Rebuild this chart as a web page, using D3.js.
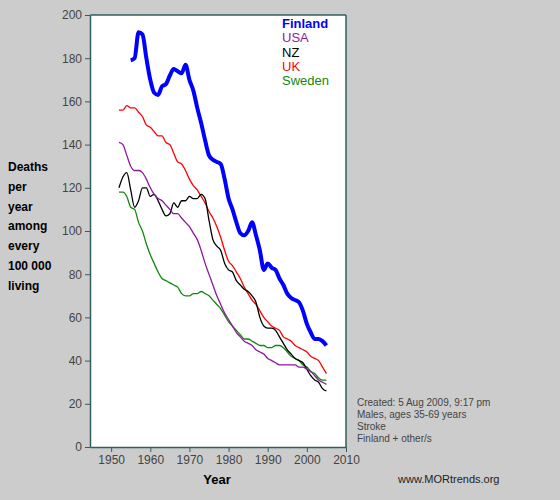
<!DOCTYPE html>
<html><head><meta charset="utf-8">
<script src="https://cdn.jsdelivr.net/npm/d3@7"></script>
<style>body{margin:0;background:#cccccc;}svg{display:block;font-family:Arial,"Liberation Sans",sans-serif;}</style>
</head><body><div id="chart"></div>
<script>
const years = d3.range(1952, 2006);
const finland = [null,null,null,179,180,192,191,180,170,164,163,167,168,172,175,174,173,177,170,165,157,150,142,135,133,132,131,124,115,110,104,99,98,100,104,98,91,82,85,83,82,78,75,71,69,68,67,63,57,53,50,50,49,47];
const usa = [141,140,135,130,128,128,127,124,120,117,115,114,112,110,108,108,106,104,102,99,96,91,85,80,75,70,66,62,59,56,53,51,49,48,47,45,44,43,41,40,39,38,38,38,38,38,37,37,36,35,33,31,30,29];
const nz = [120,125,127,119,111,114,120,120,116,117,114,110,107,108,113,111,114,114,116,115,115,117,115,105,96,93,91,85,82,81,77,75,73,72,70,67,60,56,55,55,54,51,48,45,43,41,40,39,36,33,31,30,27,26];
const uk = [156,156,158,157,157,155,153,149,148,146,144,144,141,140,136,132,131,128,124,121,119,116,113,109,106,102,97,91,86,84,81,78,74,71,68,66,63,60,58,56,55,54,51,50,49,47,46,45,44,42,41,40,37,34];
const sweden = [118,118,116,111,110,104,100,94,89,85,81,78,77,76,75,74,71,70,70,71,71,72,71,70,68,66,64,61,58,56,54,52,50,50,49,48,47,47,46,46,47,47,46,44,42,41,40,38,37,35,34,32,31,31];
const series = [
  {name:"Finland", values:finland, color:"#0000ff", width:4, bold:true},
  {name:"USA", values:usa, color:"#8b1a9b", width:1.3},
  {name:"NZ", values:nz, color:"#000000", width:1.3},
  {name:"UK", values:uk, color:"#ff0000", width:1.3},
  {name:"Sweden", values:sweden, color:"#118811", width:1.3}
];
const xTicks = d3.range(1950, 2011, 10);
const yTicks = d3.range(0, 201, 20);
const yLabel = ["Deaths","per","year","among","every","100 000","living"];
const notes = ["Created: 5 Aug 2009, 9:17 pm","Males, ages 35-69 years","Stroke","Finland + other/s"];

const svg = d3.select("#chart").append("svg").attr("width",560).attr("height",500);
const x = d3.scaleLinear().domain([1944.6, 2010]).range([90, 346]);
const y = d3.scaleLinear().domain([0, 200]).range([447, 15]);

svg.append("rect").attr("x",90).attr("y",15).attr("width",256).attr("height",432).attr("fill","#fff");

const axisColor = "#2f5f5f";
const gx = svg.append("g").attr("transform","translate(0,447)")
  .call(d3.axisBottom(x).tickValues(xTicks).tickFormat(d3.format("d")).tickSize(5).tickSizeOuter(0));
const gy = svg.append("g").attr("transform","translate(90,0)")
  .call(d3.axisLeft(y).tickValues(yTicks).tickSize(5).tickSizeOuter(0));
[gx, gy].forEach(g => {
  g.select(".domain").attr("stroke", axisColor).attr("stroke-width",1.5);
  g.selectAll(".tick line").attr("stroke", axisColor);
  g.selectAll(".tick text").attr("fill","#444").style("font-size","12px");
});
svg.append("line").attr("x1",90).attr("x2",346).attr("y1",15).attr("y2",15).attr("stroke",axisColor).attr("stroke-width",1.5);
svg.append("line").attr("x1",346).attr("x2",346).attr("y1",15).attr("y2",447).attr("stroke",axisColor).attr("stroke-width",1.5);

const line = d3.line().defined(d => d[1] != null).x(d => x(d[0])).y(d => y(d[1])).curve(d3.curveMonotoneX);
[...series].reverse().forEach(s => {
  svg.append("path").datum(years.map((yr,i) => [yr, s.values[i]]))
    .attr("d", line).attr("fill","none").attr("stroke", s.color).attr("stroke-width", s.width)
    .attr("stroke-linejoin","round");
});

series.forEach((s,i) => {
  svg.append("text").attr("x",282).attr("y",28 + i*14.3).attr("fill", s.color)
    .style("font-size","13px").style("font-weight", s.bold ? "bold" : "normal").text(s.name);
});

yLabel.forEach((t,i) => {
  svg.append("text").attr("x",8).attr("y",171 + i*19.8).style("font-size","12px").style("font-weight","bold").text(t);
});
svg.append("text").attr("x",217).attr("y",484).attr("text-anchor","middle").style("font-size","13px").style("font-weight","bold").text("Year");
notes.forEach((t,i) => {
  svg.append("text").attr("x",357).attr("y",406 + i*12).attr("fill","#444").style("font-size","10px").text(t);
});
svg.append("text").attr("x",398).attr("y",483).attr("fill","#222").style("font-size","11px").text("www.MORtrends.org");
</script></body></html>
